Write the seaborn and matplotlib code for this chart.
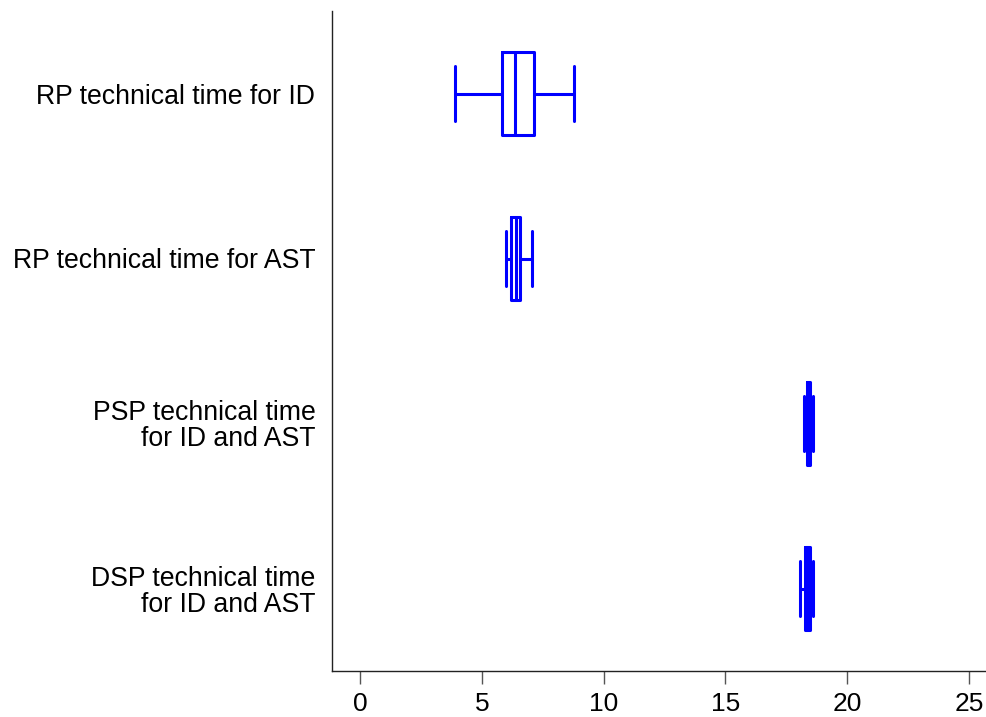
import numpy as np
import pandas as pd
import matplotlib
matplotlib.use("Agg")
import matplotlib.pyplot as plt
import seaborn as sns

categories = [
    "RP technical time for ID",
    "RP technical time for AST",
    "PSP technical time\nfor ID and AST",
    "DSP technical time\nfor ID and AST",
]
# five-number summaries (min, Q1, median, Q3, max)
rp_id = [3.91, 5.83, 6.35, 7.13, 8.78]
rp_ast = [5.98, 6.21, 6.39, 6.57, 7.07]
psp = [18.23, 18.34, 18.42, 18.49, 18.61]
dsp = [18.08, 18.27, 18.38, 18.49, 18.58]
xticks = [0, 5, 10, 15, 20, 25]

sns.set_theme(style="white")
plt.rcParams["font.family"] = ["Liberation Sans", "DejaVu Sans"]
plt.rcParams["text.color"] = "black"
plt.rcParams["xtick.color"] = "black"
plt.rcParams["ytick.color"] = "black"

rows = []
for cat, vals in zip(categories, [rp_id, rp_ast, psp, dsp]):
    for v in vals:
        rows.append({"category": cat, "time": v})
df = pd.DataFrame(rows)

fig = plt.figure(figsize=(9.86, 7.17), dpi=100)
ax = fig.add_axes([332 / 986, 46 / 717, 654 / 986, 660 / 717])

kw = dict(data=df, x="time", y="category", order=categories, orient="h",
          whis=(0, 100), width=0.5, fill=False, color="#0000ff",
          linewidth=2.2, ax=ax)
try:
    sns.boxplot(capwidths=0.33, **kw)
except Exception:
    ax.cla()
    sns.boxplot(**kw)

ax.set_xlim(-1.15, 25.7)
ax.set_ylim(3.5, -0.5)
ax.set_xticks(xticks)
ax.set_xticklabels([str(t) for t in xticks])
ax.set_xlabel("")
ax.set_ylabel("")
for s in ["top", "right"]:
    ax.spines[s].set_visible(False)
for s in ["left", "bottom"]:
    ax.spines[s].set_color("#222222")
    ax.spines[s].set_linewidth(1.0)
ax.tick_params(axis="x", length=9, width=1, color="#555555", labelsize=19,
               labelcolor="black", pad=6, bottom=True, direction="out")
ax.tick_params(axis="y", length=0, labelsize=19.2, labelcolor="black", pad=12)
for lab in ax.get_yticklabels():
    lab.set_horizontalalignment("right")
    lab.set_multialignment("right")
    lab.set_linespacing(1.0)

fig.savefig("out.png", dpi=100)
